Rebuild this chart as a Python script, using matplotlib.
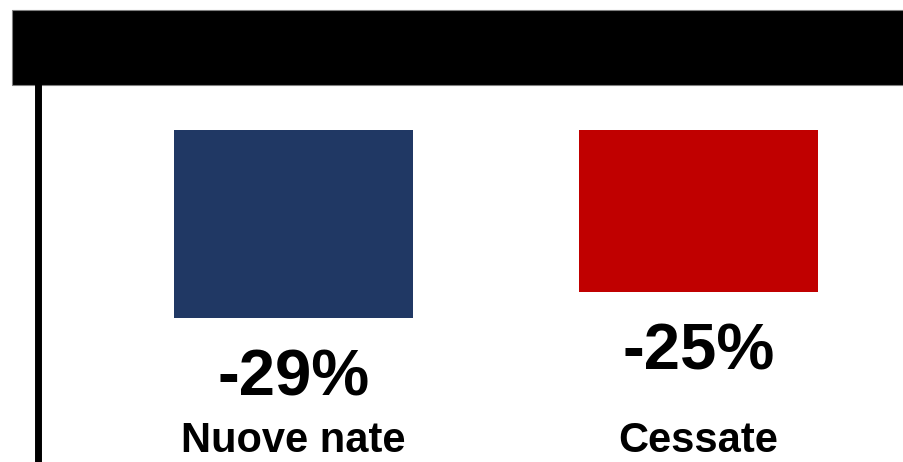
import matplotlib.pyplot as plt
from matplotlib.patches import Rectangle
from matplotlib.lines import Line2D
import matplotlib.transforms as mtransforms

plt.rcParams["font.family"] = ["Liberation Sans", "DejaVu Sans"]

categories = ["Nuove nate", "Cessate"]
values = [-29, -25]
labels = ["-29%", "-25%"]
colors = ["#203864", "#C00000"]

W, H, DPI = 904, 462, 100
fig = plt.figure(figsize=(W / DPI, H / DPI), dpi=DPI)
ax = fig.add_axes([0, 0, 1, 1])
ax.set_axis_off()

# map data to the layout of the original slide
ax.set_xlim(-0.7247, 1.5074)
ax.set_ylim(-51.1, 20.0)

x = range(len(categories))
ax.bar(x, values, width=0.59, color=colors)

for xi, v, lab in zip(x, values, labels):
    ax.annotate(lab, (xi, v), xytext=(0, -21.6), textcoords="offset points",
                ha="center", va="top", fontsize=47, fontweight="bold")

trans = mtransforms.blended_transform_factory(ax.transData, ax.transAxes)
for xi, cat in zip(x, categories):
    ax.text(xi, (H - 452) / H, cat, transform=trans, ha="center",
            va="baseline", fontsize=30, fontweight="bold")

# black header band and left rule
fig.patches.append(Rectangle((12 / W, 1 - 85 / H), 1.0, 75 / H,
                             transform=fig.transFigure, facecolor="black",
                             edgecolor="#7f7f7f", linewidth=0.8))
fig.lines.append(Line2D([37.5 / W, 37.5 / W], [0, 1 - 85 / H],
                        transform=fig.transFigure, color="black", linewidth=5))

fig.savefig("out.png", dpi=DPI)
